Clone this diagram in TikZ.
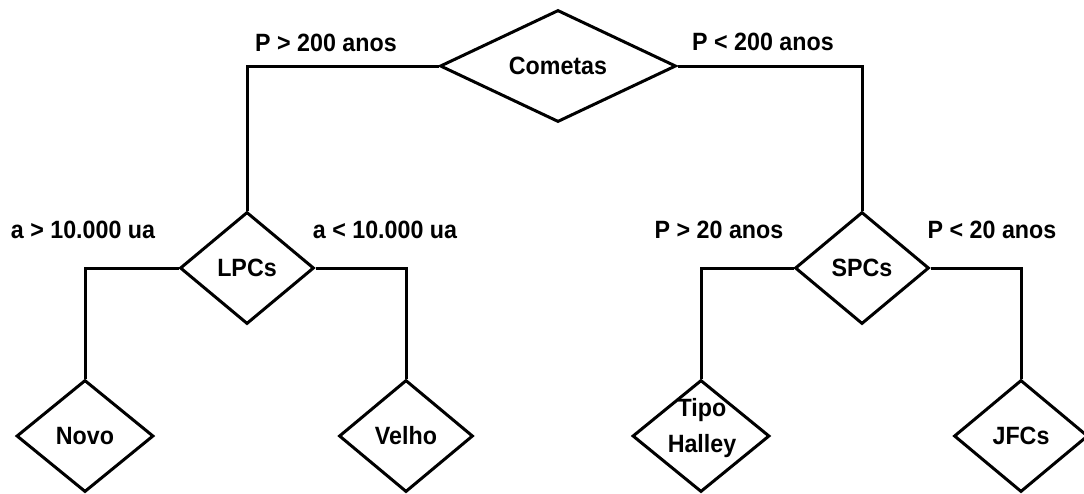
\documentclass[tikz,border=0pt]{standalone}
\usepackage{fontspec}
\setmainfont{Liberation Sans}[FakeStretch=0.93]
\usetikzlibrary{shapes.geometric}

\tikzset{
  x=1pt, y=-1pt,
  decision/.style={draw=black, line width=3pt, shape=diamond, inner sep=0pt,
    aspect=1.2, minimum width=134pt, minimum height=112pt,
    font=\fontsize{25}{28}\selectfont\bfseries, align=center},
  cond/.style={inner sep=0pt, font=\fontsize{25}{28}\selectfont\bfseries},
  twoline/.style={inner sep=0pt, align=center,
    font=\fontsize{25}{36}\selectfont\bfseries},
  branch/.style={draw=black, line width=3pt, line join=miter}
}

\begin{document}
\begin{tikzpicture}
\useasboundingbox (0,0) rectangle (1084,493);

% decision nodes
\node[decision, aspect=2.1, minimum width=236pt] (cometas) at (558,66) {Cometas};
\node[decision] (lpc) at (247,268) {LPCs};
\node[decision] (spc) at (862,268) {SPCs};
\node[decision, minimum width=137pt] (novo) at (85,436) {Novo};
\node[decision] (velho) at (406,436) {Velho};
\node[decision, minimum width=137pt] (halley) at (701,436) {};
\node[twoline] (halleytext) at (702,428) {Tipo\\Halley};
\node[decision] (jfc) at (1021,436) {JFCs};

% branch conditions
\node[cond] (c1) at (326,43) {P > 200 anos};
\node[cond] (c2) at (763,42) {P < 200 anos};
\node[cond] (c3) at (83,230) {a > 10.000 ua};
\node[cond] (c4) at (385,230) {a < 10.000 ua};
\node[cond] (c5) at (719,230) {P > 20 anos};
\node[cond] (c6) at (992,230) {P < 20 anos};

% connectors
\draw[branch] (cometas.west) -| (lpc.north);
\draw[branch] (cometas.east) -| (spc.north);
\draw[branch] (lpc.west) -| (novo.north);
\draw[branch] (lpc.east) -| (velho.north);
\draw[branch] (spc.west) -| (halley.north);
\draw[branch] (spc.east) -| (jfc.north);
\end{tikzpicture}
\end{document}
